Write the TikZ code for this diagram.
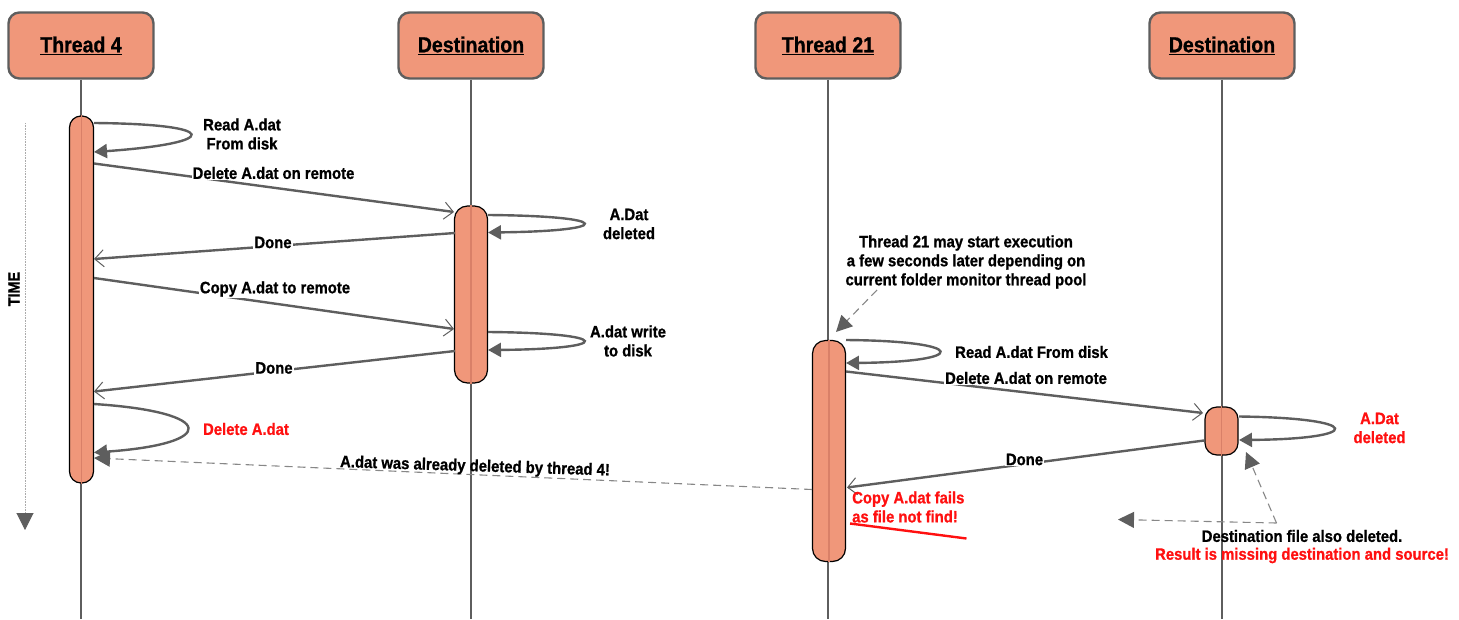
\documentclass[tikz,border=0pt]{standalone}
\usepackage{fontspec}
\setmainfont{Liberation Sans}[FakeStretch=0.9, BoldFeatures={FakeBold=0.9}]
\usetikzlibrary{arrows.meta}
\definecolor{salmon}{HTML}{F0977A}
\definecolor{stripe}{HTML}{D98068}
\definecolor{wire}{HTML}{5E5E5E}
\definecolor{hint}{HTML}{878787}
\definecolor{alert}{HTML}{FF1010}
\tikzset{
  head/.style={draw=wire, line width=2.4pt, fill=salmon, rounded corners=11pt,
    minimum width=145pt, minimum height=66pt, inner sep=0pt,
    font=\fontsize{21.7}{24}\selectfont\bfseries},
  life/.style={draw=wire, line width=2pt},
  bar/.style={draw=black, line width=1.2pt, fill=salmon, inner sep=0pt},
  msg/.style={draw=wire, line width=2.4pt,
    -{Straight Barb[length=9pt,width=17pt,line width=1pt]}},
  selfcall/.style={draw=wire, line width=2.4pt, -{Triangle[length=13pt,width=14pt]}},
  hintline/.style={draw=hint, line width=1.1pt, dash pattern=on 8pt off 5pt,
    -{Triangle[length=16pt,width=16pt,color=wire,fill=wire]}},
  lbl/.style={font=\fontsize{16.5}{19}\selectfont\bfseries, align=center, inner sep=1pt},
  tag/.style={lbl, fill=white},
  warn/.style={lbl, text=alert},
}
\begin{document}
\begin{tikzpicture}[x=1pt,y=-1pt]
\useasboundingbox (0,0) rectangle (1459,619);

% participants
\node[head] (t4)  at (81,45.5)  {\underline{Thread 4}};
\node[head] (d1)  at (471,45.5) {\underline{Destination}};
\node[head] (t21) at (828,45.5) {\underline{Thread 21}};
\node[head] (d2)  at (1222,45.5){\underline{Destination}};

% lifelines
\coordinate (t4end)  at (81,619);
\coordinate (d1end)  at (471,619);
\coordinate (t21end) at (828,619);
\coordinate (d2end)  at (1222,619);
\draw[life] (t4.south) -- (t4end);
\draw[life] (d1.south) -- (d1end);
\draw[life] (t21.south) -- (t21end);
\draw[life] (d2.south) -- (d2end);

% time axis
\coordinate (tops) at (25,123);
\coordinate (tend) at (25,530);
\draw[draw=hint!70, line width=1pt, dash pattern=on 1pt off 0.6pt,
  -{Triangle[length=17pt,width=17pt,color=wire,fill=wire]}] (tops) -- (tend);
\node[lbl, rotate=90, font=\fontsize{16}{18}\selectfont\bfseries] (time) at (14,289) {TIME};

% activation bars
\node[bar, rounded corners=11.5pt, minimum width=24pt, minimum height=367pt] (b4) at (81.5,299.5) {};
\node[bar, rounded corners=13pt, minimum width=33pt, minimum height=177pt] (b1) at (471,294.5) {};
\node[bar, rounded corners=13pt, minimum width=33pt, minimum height=221pt] (b21) at (829,451) {};
\node[bar, rounded corners=12pt, minimum width=33pt, minimum height=48pt] (b2) at (1221.5,431) {};
\draw[stripe, line width=1.4pt] (b4.north) -- (b4.south);
\draw[stripe, line width=1.4pt] (b1.north) -- (b1.south);
\draw[stripe, line width=1.4pt] (b21.north) -- (b21.south);
\draw[stripe, line width=1.4pt] (b2.north) -- (b2.south);

% ---- Thread 4 ----
\coordinate (r1a) at (94,123);
\coordinate (r1b) at (94,152);
\draw[selfcall] (r1a) .. controls (222,124) and (222,143) .. (r1b);
\node[lbl] (r1t) at (242,134) {Read A.dat\\From disk};

\coordinate (m1a) at (94,163.5);
\coordinate (m1b) at (454,212);
\draw[msg] (m1a) -- (m1b);
\node[tag] (m1t) at (273.5,173) {Delete A.dat on remote};

\coordinate (s1a) at (488,215);
\coordinate (s1b) at (488,232.5);
\draw[selfcall] (s1a) .. controls (615,216) and (615,231) .. (s1b);
\node[lbl] (s1t) at (629,224) {A.Dat\\deleted};

\coordinate (m2a) at (455,233);
\coordinate (m2b) at (94,259);
\draw[msg] (m2a) -- (m2b);
\node[tag] (m2t) at (273,242.5) {Done};

\coordinate (m3a) at (94,278);
\coordinate (m3b) at (454,329);
\draw[msg] (m3a) -- (m3b);
\node[tag] (m3t) at (275,289) {Copy A.dat to remote};

\coordinate (s2a) at (488,332);
\coordinate (s2b) at (488,350);
\draw[selfcall] (s2a) .. controls (615,333) and (615,349) .. (s2b);
\node[lbl] (s2t) at (628,341) {A.dat write\\to disk};

\coordinate (m4a) at (455,351);
\coordinate (m4b) at (94,391.5);
\draw[msg] (m4a) -- (m4b);
\node[tag] (m4t) at (274,368) {Done};

\coordinate (s3a) at (94,404);
\coordinate (s3b) at (94,452.5);
\draw[selfcall] (s3a) .. controls (218,412) and (218,444) .. (s3b);
\node[warn] (s3t) at (246,429) {Delete A.dat};

% ---- Thread 21 ----
\coordinate (n1a) at (877,290);
\coordinate (n1b) at (836,332);
\draw[hintline] (n1a) -- (n1b);
\node[lbl] (n1t) at (966,262) {Thread 21 may start execution\\a few seconds later depending on\\current folder monitor thread pool};

\coordinate (r2a) at (846,340);
\coordinate (r2b) at (846,363);
\draw[selfcall] (r2a) .. controls (970,341) and (970,362) .. (r2b);
\node[lbl, anchor=west] (r2t) at (954,352) {Read A.dat From disk};

\coordinate (k1a) at (846,371.5);
\coordinate (k1b) at (1203,413);
\draw[msg] (k1a) -- (k1b);
\node[tag] (k1t) at (1026,378) {Delete A.dat on remote};

\coordinate (s4a) at (1239,416.5);
\coordinate (s4b) at (1239,440);
\draw[selfcall] (s4a) .. controls (1365,418) and (1365,439) .. (s4b);
\node[warn] (s4t) at (1379.5,428) {A.Dat\\deleted};

\coordinate (k2a) at (1204,440.5);
\coordinate (k2b) at (847,487.5);
\draw[msg] (k2a) -- (k2b);
\node[tag] (k2t) at (1024.5,459.5) {Done};

% failed copy back to Thread 4
\coordinate (f1a) at (812,489.5);
\coordinate (f1b) at (94,458);
\draw[hintline] (f1a) -- (f1b);
\node[lbl, rotate=-1.8] (f1t) at (475,467) {A.dat was already deleted by thread 4!};

\node[warn, anchor=west, align=left] (f2t) at (851,507) {Copy A.dat fails\\as file not find!};
\coordinate (u1a) at (850,523.5);
\coordinate (u1b) at (966.5,538.5);
\draw[alert, line width=2.4pt] (u1a) -- (u1b);

% outcome note
\coordinate (o1) at (1276.5,523);
\coordinate (o2) at (1118,519.5);
\coordinate (o3) at (1246,452);
\draw[hintline] (o1) -- (o2);
\draw[hintline] (o1) -- (o3);
\node[lbl] (o1t) at (1302,536) {Destination file also deleted.};
\node[warn] (o2t) at (1302,555.5) {Result is missing destination and source!};
\end{tikzpicture}
\end{document}
